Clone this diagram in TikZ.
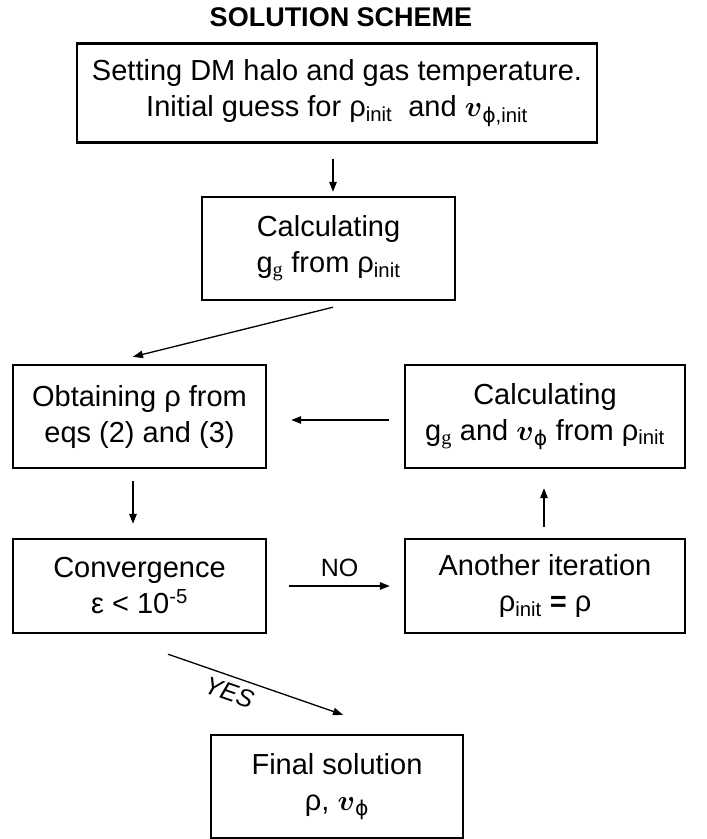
\RequirePackage{fix-cm}
\documentclass[tikz,border=0pt]{standalone}
\usepackage{amsmath,amssymb}
\usepackage{fontspec}
\setmainfont{Liberation Sans}
\newfontfamily\tmsfont{Liberation Serif}
\newfontfamily\djvfont{DejaVu Sans}
\usetikzlibrary{arrows.meta,positioning}
\newcommand{\rinit}{ρ\textsubscript{init}}
\newcommand{\ggas}{g\textsubscript{\tmsfont g}}
\newcommand{\vel}{$\boldsymbol{v}$}
\newcommand{\phisub}{{\djvfont ϕ}}
\tikzset{
  bx/.style={draw=black, line width=2.4pt, align=center, inner sep=0pt,
             font=\fontsize{29}{36}\selectfont},
  ttl/.style={font=\fontsize{27}{32}\selectfont\bfseries},
  arr/.style={-{Triangle[length=10pt,width=7.5pt]}, line width=1.3pt},
  lbl/.style={font=\fontsize{25}{30}\selectfont},
  ylbl/.style={font=\fontsize{25}{30}\selectfont\itshape},
}

\begin{document}
\begin{tikzpicture}[x=1pt, y=-1pt]
  \useasboundingbox (0,0) rectangle (707,839);
  \node[ttl] (title) at (341,17) {SOLUTION SCHEME};
  \node[bx, minimum width=520pt, minimum height=99pt] (init) at (337,93)
    {Setting DM halo and gas temperature.\\ Initial guess for \rinit\ \ and \vel\textsubscript{\phisub,init}};
  \node[bx, minimum width=253pt, minimum height=103pt] (calcg) at (328.5,248.5)
    {Calculating\\ \ggas\ from \rinit};
  \node[bx, minimum width=253pt, minimum height=103pt] (obtain) at (139.5,416.5)
    {Obtaining ρ from\\ eqs (2) and (3)};
  \node[bx, minimum width=280pt, minimum height=103pt] (calcgv) at (545,416.5)
    {Calculating\\ \ggas\ and \vel\textsubscript{\phisub} from \rinit};
  \node[bx, minimum width=253pt, minimum height=94pt] (conv) at (139.5,586)
    {Convergence\\ ε < 10\textsuperscript{-5}};
  \node[bx, minimum width=280pt, minimum height=94pt] (iter) at (545,586)
    {Another iteration\\ \rinit\ {\bfseries =} ρ};
  \node[bx, minimum width=252pt, minimum height=103pt] (final) at (337,786.5)
    {Final solution\\ ρ, \vel\textsubscript{\phisub}};

  \draw[arr] ([xshift=-4pt,yshift=-15pt]init.south) -- ([xshift=4.5pt,yshift=4pt]calcg.north);
  \draw[arr] ([xshift=4.5pt,yshift=-6pt]calcg.south) -- ([xshift=-6.5pt,yshift=7pt]obtain.north);
  \draw[arr] ([xshift=-15pt,yshift=-3.5pt]calcgv.west) -- ([xshift=24pt,yshift=-3.5pt]obtain.east);
  \draw[arr] ([xshift=-6.5pt,yshift=-12pt]obtain.south) -- ([xshift=-6.5pt,yshift=14pt]conv.north);
  \draw[arr] ([xshift=22pt]conv.east) -- node[lbl, above=5pt] {NO} ([xshift=-14pt]iter.west);
  \draw[arr] ([xshift=-1pt,yshift=11pt]iter.north) -- ([xshift=-1pt,yshift=-19pt]calcgv.south);
  \draw[arr] ([xshift=28.5pt,yshift=-20pt]conv.south) -- node[ylbl, sloped, below=3pt, pos=0.38] {YES} ([xshift=6pt,yshift=19pt]final.north);
\end{tikzpicture}
\end{document}
